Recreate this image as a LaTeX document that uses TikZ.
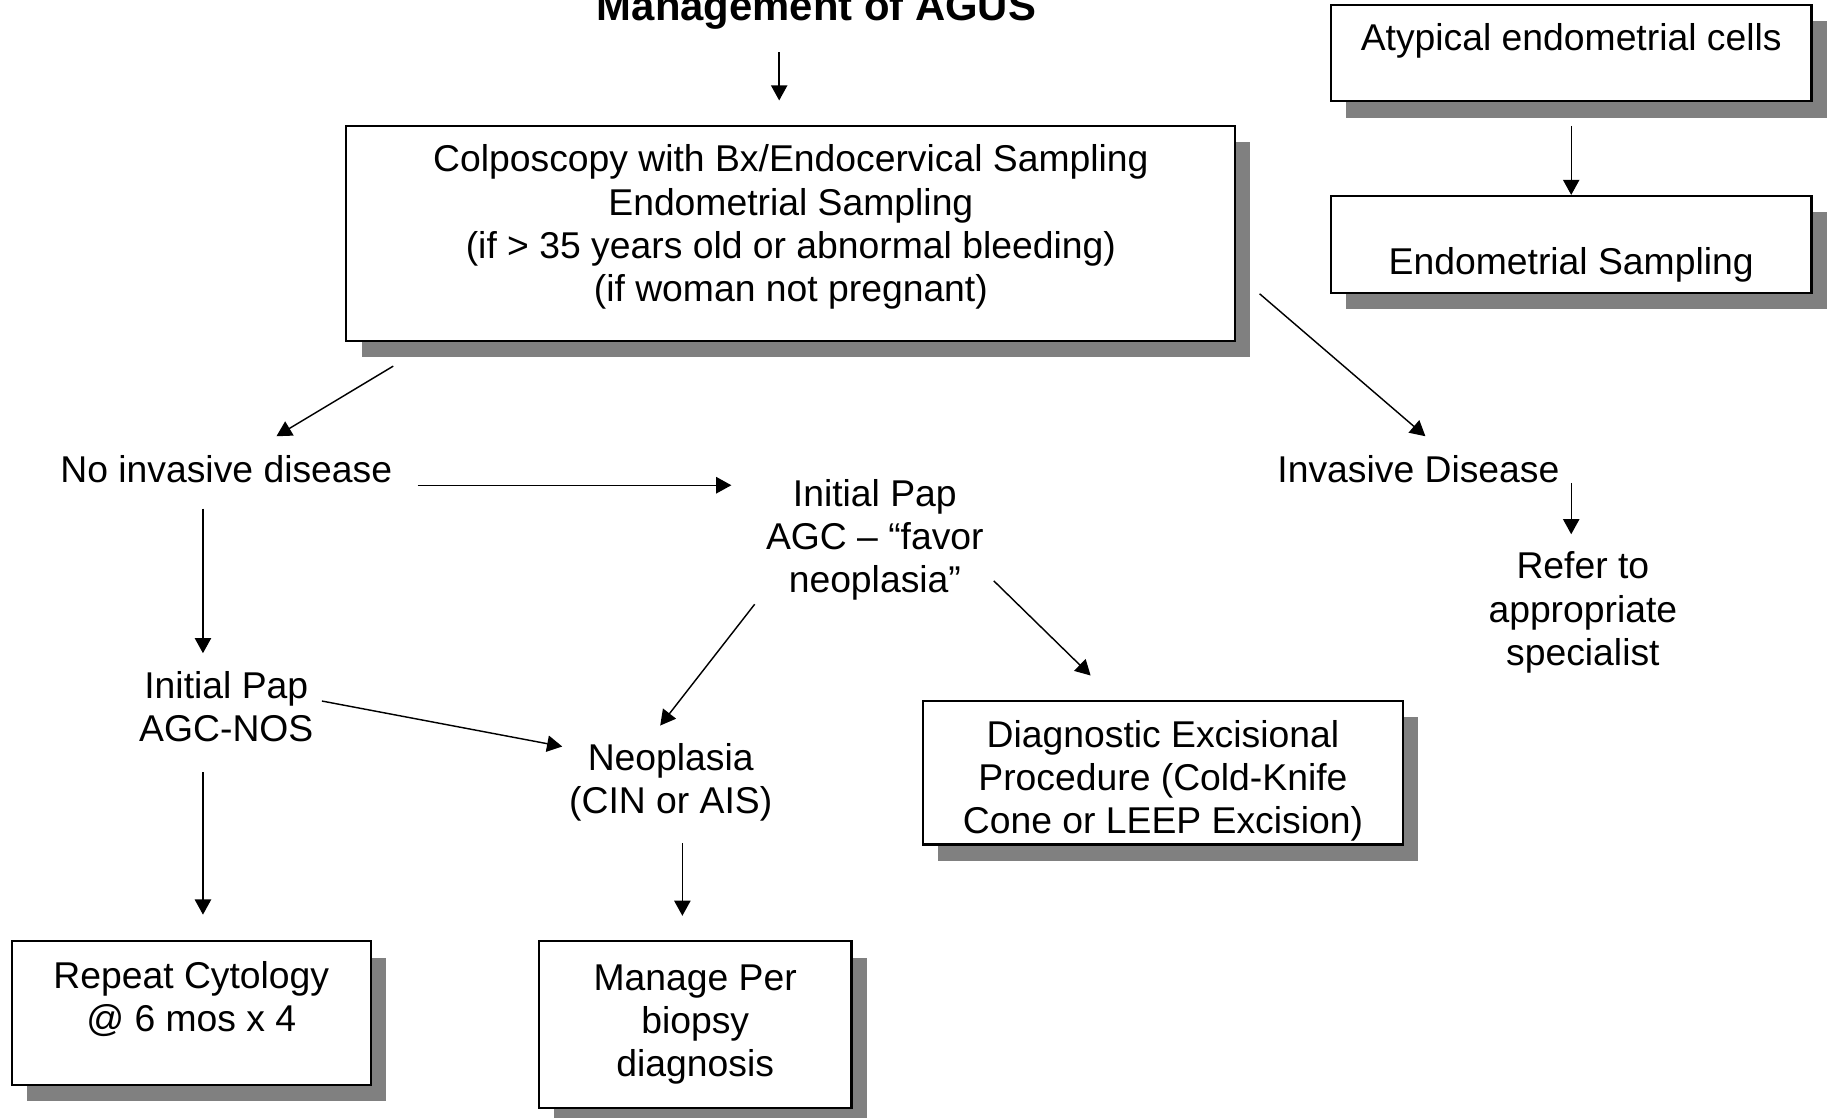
\documentclass[tikz,border=0pt]{standalone}
\usepackage{fontspec}
\setmainfont{Liberation Sans}
\usetikzlibrary{arrows.meta, shadows}

\begin{document}
\begin{tikzpicture}[x=0.1mm, y=-0.1mm,
  every node/.style={font=\fontsize{9.1}{10.5}\selectfont, align=center, inner sep=0pt},
  box/.style={draw, fill=white, line width=0.5pt,
    drop shadow={shadow xshift=1.3mm, shadow yshift=-1.4mm, fill=black!50, opacity=1}},
  arr/.style={-{Triangle[length=1.3mm, width=1.4mm]}, line width=0.35pt}]
  \useasboundingbox (0,0) rectangle (1568,958);
  % boxes
  \path (700,18) node[anchor=base, font=\bfseries\fontsize{10.2}{12}\selectfont] (title) {Management of AGUS}
  (678,200) node[box, minimum width=76.2mm, minimum height=18.4mm] (colpo) {Colposcopy with Bx/Endocervical Sampling\\Endometrial Sampling\\(if > 35 years old or abnormal bleeding)\\(if woman not pregnant)\\[-5.5pt]\mbox{}}
  (1347,45.5) node[box, minimum width=41.2mm, minimum height=8.3mm] (atyp) {Atypical endometrial cells\\[-2.8pt]\mbox{}}
  (1347,209.5) node[box, minimum width=41.2mm, minimum height=8.3mm] (endo) {\mbox{}\\[6.2pt]Endometrial Sampling}
  (997,662.5) node[box, minimum width=41.2mm, minimum height=12.3mm] (diag) {\mbox{}\\Diagnostic Excisional\\Procedure (Cold-Knife\\Cone or LEEP Excision)}
  (164,868.5) node[box, minimum width=30.8mm, minimum height=12.3mm] (repcyt) {Repeat Cytology\\@ 6 mos x 4\\[-2.2pt]\mbox{}}
  (596,878.5) node[box, minimum width=26.8mm, minimum height=14.3mm] (manage) {Manage Per\\biopsy\\diagnosis};
  % plain labels
  \path (194,402) node (noinv) {No invasive disease}
  (750,463) node (papfav) {Initial Pap\\AGC – “favor\\neoplasia”}
  (1216,402) node (invd) {Invasive Disease}
  (1357,525) node (refer) {Refer to\\appropriate\\specialist}
  (194,605.5) node (papnos) {Initial Pap\\AGC-NOS}
  (575,671) node (neo) {Neoplasia\\(CIN or AIS)};
  % arrows
  \draw[arr] ([shift={(-32,27)}]title.base) -- ([shift={(-10,-21)}]colpo.north);
  \draw[arr] ([shift={(0,20)}]atyp.south) -- (endo.north);
  \draw[arr] ([shift={(41,21)}]colpo.south west) -- ([shift={(43,-28)}]noinv.center);
  \draw[arr] ([shift={(20,-41)}]colpo.south east) -- ([shift={(6,-28)}]invd.center);
  \draw[arr] ([shift={(164,14)}]noinv.center) -- ([shift={(-123,-47)}]papfav.center);
  \draw[arr] ([shift={(131,12)}]invd.center) -- ([shift={(-10,-67)}]refer.center);
  \draw[arr] ([shift={(-20,34)}]noinv.center) -- ([shift={(-20,-45.5)}]papnos.center);
  \draw[arr] ([shift={(82,-4.5)}]papnos.center) -- ([shift={(-93,-31)}]neo.center);
  \draw[arr] ([shift={(-103,55)}]papfav.center) -- ([shift={(-9,-49)}]neo.center);
  \draw[arr] ([shift={(102,35)}]papfav.center) -- ([shift={(-62,-21)}]diag.north);
  \draw[arr] ([shift={(-20,56.5)}]papnos.center) -- ([shift={(10,-22)}]repcyt.north);
  \draw[arr] ([shift={(10,52)}]neo.center) -- ([shift={(-11,-21)}]manage.north);
\end{tikzpicture}
\end{document}
